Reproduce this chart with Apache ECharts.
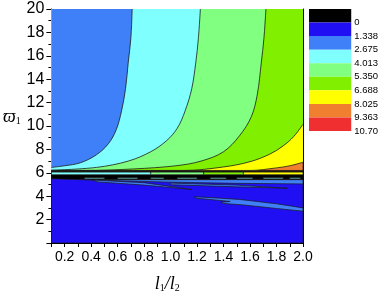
<!DOCTYPE html>
<html>
<head>
<meta charset="utf-8">
<script src="https://cdn.jsdelivr.net/npm/echarts@6/dist/echarts.min.js"></script>
<style>
  html, body { margin: 0; padding: 0; background: #fff; }
  #chart { width: 381px; height: 298px; }
</style>
</head>
<body>
<div id="chart"></div>
<script>
var chart = echarts.init(document.getElementById('chart'));

// contour levels and the colour of each band (legend, top to bottom)
var levels = ['0', '1.338', '2.675', '4.013', '5.350', '6.688', '8.025', '9.363', '10.70'];
var levelColors = ['#000000', '#1f0ff2', '#3f7ff7', '#80ffff', '#80ff80', '#80f000', '#ffff00', '#f08030', '#f03030'];

var X_MIN = 0.1, X_MAX = 2.0, Y_MIN = 0, Y_MAX = 20;

// contour lines of the upper part [l1/l2, w1]
var curve1 = [[0.1, 6.46], [0.2, 6.6], [0.32, 6.86], [0.44, 7.54], [0.53, 8.48], [0.59, 9.69], [0.63, 11.3], [0.66, 13.2], [0.68, 15.4], [0.70, 17.5], [0.71, 20]];
var curve2 = [[0.1, 6.22], [0.44, 6.46], [0.68, 7.0], [0.85, 7.8], [0.97, 8.75], [1.05, 9.8], [1.11, 11.3], [1.16, 13.2], [1.19, 15.4], [1.21, 17.5], [1.225, 20]];
var curve3 = [[0.35, 6.2], [0.72, 6.33], [1.04, 6.6], [1.23, 7.0], [1.40, 7.8], [1.52, 9.16], [1.61, 10.8], [1.655, 12.7], [1.685, 15.4], [1.705, 17.5], [1.72, 20]];
var curve4 = [[1.1, 6.2], [1.4, 6.5], [1.6, 6.95], [1.75, 7.6], [1.85, 8.3], [1.93, 9.1], [2.0, 10.15]];
var curve5 = [[1.6, 6.2], [1.8, 6.42], [1.9, 6.6], [2.0, 6.9]];

// top edge of the dark blue low region
var darkTop = [[0.1, 5.5], [0.3, 5.42], [0.6, 5.32], [1.0, 5.2], [1.5, 5.1], [2.0, 5.05]];

// thin streaks inside the dark blue region
var streak1 = [[0.41, 5.38], [0.8, 5.15], [1.16, 4.57], [0.8, 4.95], [0.45, 5.22]];
var streak2 = [[1.0, 5.12], [1.5, 4.95], [1.88, 4.68], [1.5, 4.8], [1.0, 4.98]];
var streak3 = [[1.18, 3.95], [1.35, 3.85], [1.52, 3.72], [1.6, 3.62], [1.8, 3.35], [2.0, 3.0], [2.0, 2.72], [1.8, 2.95], [1.55, 3.25], [1.4, 3.38], [1.38, 3.48], [1.45, 3.55], [1.3, 3.72], [1.2, 3.82]];

// the noisy band round w1 = 6: [x0, x1, y0, y1, level]
var bandStrips = [
  [0.1, 2.0, 4.9, 5.42, 2],
  [0.1, 2.0, 5.42, 5.84, 0],
  [0.1, 0.85, 5.84, 6.08, 3],
  [0.85, 1.25, 5.84, 6.08, 4],
  [1.25, 1.55, 5.84, 6.08, 5],
  [1.55, 2.0, 5.84, 6.08, 6],
  [0.1, 2.0, 6.08, 6.2, 0]
];
var cyanDashes = [[0.35, 0.5], [0.6, 0.75], [0.85, 0.95], [1.05, 1.2], [1.3, 1.42], [1.5, 1.62], [1.7, 1.85], [1.9, 1.98]];

// curves with [x_min, y] in front where they start inside the plot
function withEdge(curve) {
  return curve[0][0] > X_MIN ? [[X_MIN, curve[0][1]]].concat(curve) : curve;
}
function rect(x0, x1, y0, y1) {
  return [[x0, y0], [x1, y0], [x1, y1], [x0, y1]];
}

var baseRegions = [{ level: 7, points: rect(X_MIN, X_MAX, 6.0, Y_MAX) }];

var lowRegions = [];
bandStrips.forEach(function (s) {
  lowRegions.push({ level: s[4], points: rect(s[0], s[1], s[2], s[3]) });
});
cyanDashes.forEach(function (d) {
  lowRegions.push({ level: 3, points: rect(d[0], d[1], 5.48, 5.58) });
});
lowRegions.push({ level: 1, points: [[X_MIN, Y_MIN], [X_MAX, Y_MIN]].concat(darkTop.slice().reverse()) });
lowRegions.push({ level: 2, points: streak1 });
lowRegions.push({ level: 2, points: streak2 });
lowRegions.push({ level: 2, points: streak3 });

function polygonSeries(regions) {
  return {
    type: 'custom', xAxisIndex: 0, yAxisIndex: 0, clip: true, silent: true,
    data: regions.map(function (r, i) { return [r.points[0][0], r.points[0][1], i]; }),
    renderItem: function (params, api) {
      var r = regions[params.dataIndex];
      var pts = r.points.map(function (p) { return api.coord(p); });
      return {
        type: 'polygon',
        shape: { points: pts },
        style: { fill: levelColors[r.level], stroke: '#1a1a1a', lineWidth: 0.7 }
      };
    }
  };
}

// area to the upper left of each contour line
var upper = [[curve5, 6], [curve4, 5], [curve3, 4], [curve2, 3], [curve1, 2]];
var contourSeries = upper.map(function (u) {
  return {
    type: 'line', xAxisIndex: 0, yAxisIndex: 0, data: withEdge(u[0]),
    smooth: 0.35, symbol: 'none', silent: true,
    lineStyle: { color: '#1a1a1a', width: 0.8 },
    areaStyle: { origin: 'end', color: levelColors[u[1]], opacity: 1 }
  };
});

var font = 'Liberation Sans, Arial, sans-serif';

var barSeries = levelColors.map(function (c) {
  return {
    type: 'bar', xAxisIndex: 2, yAxisIndex: 2, stack: 'cb',
    data: [1], barWidth: '100%', itemStyle: { color: c }, silent: true
  };
});

option = {
  animation: false,
  grid: [
    { left: 41, right: 78, top: 9, bottom: 41.5 },
    { left: 309, width: 45, top: 9, height: 122 }
  ],
  xAxis: [
    {
      type: 'value', gridIndex: 0, min: X_MIN, max: X_MAX, interval: 0.1,
      axisLine: { lineStyle: { color: '#000', width: 1 } },
      axisTick: { length: 4, lineStyle: { color: '#000' } },
      splitLine: { show: false },
      axisLabel: {
        color: '#000', fontSize: 14, fontFamily: font, margin: 7,
        formatter: function (v) {
          var k = Math.round(v * 10);
          return k % 2 === 0 ? (k / 10).toFixed(1) : '';
        }
      },
      name: '{i|l}{s|1}{i|/}{i|l}{s|2}', nameLocation: 'middle', nameGap: 32,
      nameTextStyle: {
        padding: [0, 20, 0, 0],
        rich: {
          i: { fontFamily: 'Liberation Serif, serif', fontStyle: 'italic', fontSize: 18, color: '#000' },
          s: { fontFamily: 'Liberation Serif, serif', fontSize: 10, color: '#000', verticalAlign: 'bottom', padding: [8, 0, 0, 0] }
        }
      }
    },
    {
      type: 'value', gridIndex: 0, position: 'top', min: X_MIN, max: X_MAX,
      axisLine: { lineStyle: { color: '#000' } }, axisTick: { show: false },
      axisLabel: { show: false }, splitLine: { show: false }
    },
    {
      type: 'category', gridIndex: 1, data: [''], show: false
    }
  ],
  yAxis: [
    {
      type: 'value', gridIndex: 0, min: Y_MIN, max: Y_MAX, interval: 2,
      axisLine: { show: true, lineStyle: { color: '#000', width: 1 } },
      axisTick: { show: true, length: 5, lineStyle: { color: '#000' } },
      minorTick: { show: true, splitNumber: 2, length: 3, lineStyle: { color: '#000' } },
      splitLine: { show: false },
      axisLabel: {
        color: '#000', fontSize: 16, fontFamily: font, margin: 7,
        formatter: function (v) { return v === 0 ? '' : v; }
      },
      name: '{i|ϖ}{s|1}', nameLocation: 'middle', nameGap: 30, nameRotate: 0,
      nameTextStyle: {
        padding: [0, 0, 18, 0],
        rich: {
          i: { fontFamily: 'Liberation Serif, serif', fontStyle: 'italic', fontSize: 18, color: '#000' },
          s: { fontFamily: 'Liberation Serif, serif', fontSize: 10, color: '#000', padding: [8, 0, 0, 0] }
        }
      }
    },
    {
      type: 'value', gridIndex: 0, position: 'right', min: Y_MIN, max: Y_MAX,
      axisLine: { show: true, lineStyle: { color: '#000' } }, axisTick: { show: false },
      axisLabel: { show: false }, splitLine: { show: false }
    },
    {
      type: 'value', gridIndex: 1, min: 0, max: 9, interval: 1, inverse: true, position: 'right',
      axisLine: { show: false }, axisTick: { show: false }, splitLine: { show: false },
      axisLabel: {
        color: '#000', fontSize: 9.5, fontFamily: font, margin: 3,
        formatter: function (v) { return v >= 1 ? levels[v - 1] : ''; }
      }
    }
  ],
  series: [polygonSeries(baseRegions)]
    .concat(contourSeries)
    .concat([polygonSeries(lowRegions)])
    .concat(barSeries)
};

option && chart.setOption(option);
</script>
</body>
</html>
